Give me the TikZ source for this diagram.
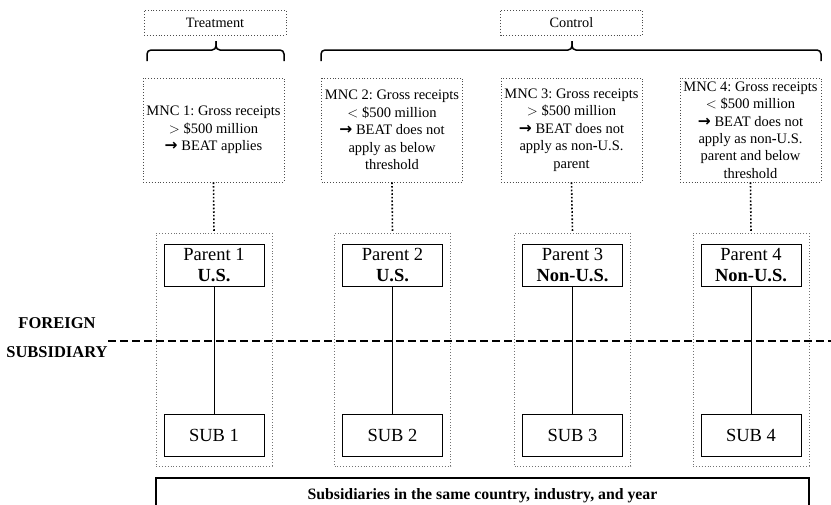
\documentclass[tikz,border=0pt]{standalone}
\usepackage{fontspec}
\setmainfont{Liberation Serif}
\newfontfamily\arrowfont{DejaVu Sans}
\newcommand{\arr}{{\arrowfont\bfseries\fontsize{15.5}{12}\selectfont →}}
\frenchspacing
\begin{document}
\begin{tikzpicture}[x=1pt,y=-1pt,
  lab/.style={draw=black!70, dotted, line width=0.9pt, minimum width=142, minimum height=25, inner sep=0, font=\fontsize{14.3}{16}\selectfont},
  mnc/.style={draw=black!70, dotted, line width=0.9pt, minimum width=141, minimum height=104, inner sep=1, align=center, font=\fontsize{14.5}{17.4}\selectfont},
  grp/.style={draw=black!55, dotted, line width=0.9pt, minimum width=116, minimum height=233, inner sep=0},
  ent/.style={draw=black, line width=0.8pt, minimum width=100, minimum height=42, inner sep=0, align=center, font=\fontsize{18.5}{21}\selectfont},
  link/.style={black, dotted, line width=1.6pt},
  own/.style={black, line width=0.7pt},
  brace/.style={black, line width=1.5pt, rounded corners=4}
]
\useasboundingbox (0,0) rectangle (831,504);

% top labels
\node[lab] (treat) at (215,22.5) {Treatment};
\node[lab] (ctrl) at (571.5,22.5) {Control};

% braces
\draw[brace] (147,61) -- (147,50) -- (216,50) -- (216,41);
\draw[brace] (284,61) -- (284,50) -- (216,50) -- (216,41);
\draw[brace] (321,61) -- (321,50) -- (572,50) -- (572,41);
\draw[brace] (821,61) -- (821,50) -- (572,50) -- (572,41);

% MNC boxes
\node[mnc] (m1) at (213.5,130) {MNC 1: Gross receipts\\ $>$ \$500 million\\ \arr{} BEAT applies};
\node[mnc] (m2) at (392,130) {MNC 2: Gross receipts\\ $<$ \$500 million\\ \arr{} BEAT does not\\ apply as below\\ threshold};
\node[mnc] (m3) at (571.5,130) {MNC 3: Gross receipts\\ $>$ \$500 million\\ \arr{} BEAT does not\\ apply as non\textbf{-}U.S.\\ parent};
\node[mnc] (m4) at (750.5,130) {MNC 4: Gross receipts\\ $<$ \$500 million\\ \arr{} BEAT does not\\ apply as non\textbf{-}U.S.\\ parent and below\\ threshold};

% group boxes
\node[grp] (g1) at (214,349.5) {};
\node[grp] (g2) at (392.5,349.5) {};
\node[grp] (g3) at (572.5,349.5) {};
\node[grp] (g4) at (751,349.5) {};

% dotted links
\draw[link] (m1.south) -- (g1.north);
\draw[link] (m2.south) -- (g2.north);
\draw[link] (m3.south) -- (g3.north);
\draw[link] (m4.south) -- (g4.north);

% border line
\coordinate (bl) at (108,341);
\coordinate (br) at (831,341);
\draw[line width=2pt, dash pattern=on 8pt off 4pt] (bl) -- (br);
\node[align=center, font=\bfseries\fontsize{16.5}{29}\selectfont] (fs) at (57,338) {FOREIGN\\SUBSIDIARY};

% parents and subs
\node[ent, fill=white] (p1) at (214,265) {Parent 1\\ \textbf{U.S.}};
\node[ent, fill=white] (p2) at (392.5,265) {Parent 2\\ \textbf{U.S.}};
\node[ent, fill=white] (p3) at (572.5,265) {Parent 3\\ \textbf{Non-U.S.}};
\node[ent, fill=white] (p4) at (751,265) {Parent 4\\ \textbf{Non-U.S.}};
\node[ent, fill=white] (s1) at (214,435.5) {SUB 1};
\node[ent, fill=white] (s2) at (392.5,435.5) {SUB 2};
\node[ent, fill=white] (s3) at (572.5,435.5) {SUB 3};
\node[ent, fill=white] (s4) at (751,435.5) {SUB 4};
\draw[own] (p1) -- (s1);
\draw[own] (p2) -- (s2);
\draw[own] (p3) -- (s3);
\draw[own] (p4) -- (s4);

% bottom box
\node[draw=black, line width=1.5pt, minimum width=653, minimum height=36, inner sep=0, font=\bfseries\fontsize{15.8}{18}\selectfont, anchor=north] (bot) at (482.5,477) {\raisebox{3pt}{Subsidiaries in the same country, industry, and year}};
\end{tikzpicture}
\end{document}
